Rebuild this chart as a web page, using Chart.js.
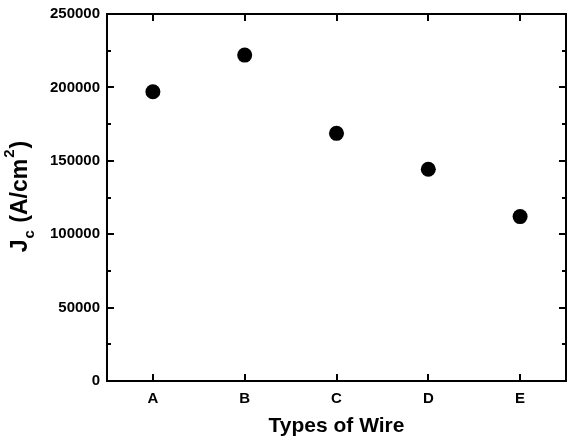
<!DOCTYPE html>
<html lang="en">
  <head>
    <meta charset="UTF-8" />
    <script src="https://cdn.jsdelivr.net/npm/chart.js"></script>
    <title>Jc by Types of Wire</title>
    <style>
      html, body { margin: 0; padding: 0; background: #fff; }
      #wrap { width: 568px; height: 442px; }
    </style>
  </head>
  <body>
    <div id="wrap">
      <canvas id="myChart" width="568" height="442"></canvas>
    </div>

    <script>
      // data
      const wireTypes = ["A", "B", "C", "D", "E"];
      const jcValues = [197000, 222000, 168700, 144200, 112000];
      const yTicks = [0, 50000, 100000, 150000, 200000, 250000];
      const yMinorTicks = [25000, 75000, 125000, 175000, 225000];

      const FONT = "'Liberation Sans', Arial, Helvetica, sans-serif";

      // box frame with inward ticks on all four sides, plus axis titles
      const framePlugin = {
        id: "frame",
        afterDraw(chart) {
          const ctx = chart.ctx;
          const a = chart.chartArea;
          const x = chart.scales.x;
          const y = chart.scales.y;
          ctx.save();
          ctx.strokeStyle = "#000";
          ctx.lineWidth = 2;
          ctx.strokeRect(a.left, a.top, a.right - a.left, a.bottom - a.top);

          ctx.beginPath();
          // category ticks, bottom and top
          wireTypes.forEach((t, i) => {
            const px = Math.round(x.getPixelForValue(i));
            ctx.moveTo(px, a.bottom);
            ctx.lineTo(px, a.bottom - 7);
            ctx.moveTo(px, a.top);
            ctx.lineTo(px, a.top + 7);
          });
          // major y ticks, left and right
          yTicks.forEach((v) => {
            const py = Math.round(y.getPixelForValue(v));
            ctx.moveTo(a.left, py);
            ctx.lineTo(a.left + 7, py);
            ctx.moveTo(a.right, py);
            ctx.lineTo(a.right - 7, py);
          });
          // minor y ticks
          yMinorTicks.forEach((v) => {
            const py = Math.round(y.getPixelForValue(v));
            ctx.moveTo(a.left, py);
            ctx.lineTo(a.left + 4, py);
            ctx.moveTo(a.right, py);
            ctx.lineTo(a.right - 4, py);
          });
          ctx.stroke();

          // x axis title
          ctx.fillStyle = "#000";
          ctx.font = "bold 21px " + FONT;
          ctx.textAlign = "center";
          ctx.textBaseline = "alphabetic";
          ctx.fillText("Types of Wire", (a.left + a.right) / 2, 432);

          // y axis title: J_c (A/cm^2), rotated
          ctx.translate(27, 196);
          ctx.rotate(-Math.PI / 2);
          const big = "bold 23px " + FONT;
          const small = "bold 15px " + FONT;
          const parts = [
            { t: "J", f: big, dy: 0 },
            { t: "c", f: small, dy: 7 },
            { t: " (A/cm", f: big, dy: 0 },
            { t: "2", f: small, dy: -13 },
            { t: ")", f: big, dy: 0 },
          ];
          let total = 0;
          parts.forEach((p) => {
            ctx.font = p.f;
            p.w = ctx.measureText(p.t).width + 1;
            total += p.w;
          });
          let cx = -total / 2;
          ctx.textAlign = "left";
          parts.forEach((p) => {
            ctx.font = p.f;
            ctx.fillText(p.t, cx, p.dy);
            cx += p.w;
          });
          ctx.restore();
        },
      };

      const config = {
        type: "line",
        data: {
          labels: wireTypes,
          datasets: [
            {
              data: jcValues,
              showLine: false,
              pointStyle: "circle",
              pointRadius: 7.5,
              pointBackgroundColor: "#000",
              pointBorderColor: "#000",
              pointBorderWidth: 0,
            },
          ],
        },
        options: {
          responsive: false,
          animation: false,
          layout: {
            autoPadding: false,
            padding: { top: 14, right: 2, left: 0, bottom: 0 },
          },
          plugins: {
            legend: { display: false },
            tooltip: { enabled: false },
          },
          scales: {
            x: {
              type: "category",
              offset: true,
              grid: { display: false, drawTicks: false },
              border: { display: false },
              ticks: {
                color: "#000",
                padding: 9,
                font: { family: FONT, size: 15, weight: "bold" },
              },
              afterFit(scale) {
                scale.height = 61;
                scale.paddingLeft = 0;
                scale.paddingRight = 0;
              },
            },
            y: {
              min: 0,
              max: 250000,
              grid: { display: false, drawTicks: false },
              border: { display: false },
              ticks: {
                color: "#000",
                padding: 7,
                stepSize: 50000,
                font: { family: FONT, size: 15, weight: "bold" },
                callback: (v) => String(v),
              },
              afterFit(scale) {
                scale.width = 107;
                scale.paddingTop = 0;
                scale.paddingBottom = 0;
              },
            },
          },
        },
        plugins: [framePlugin],
      };

      new Chart(document.getElementById("myChart"), config);
    </script>
  </body>
</html>
